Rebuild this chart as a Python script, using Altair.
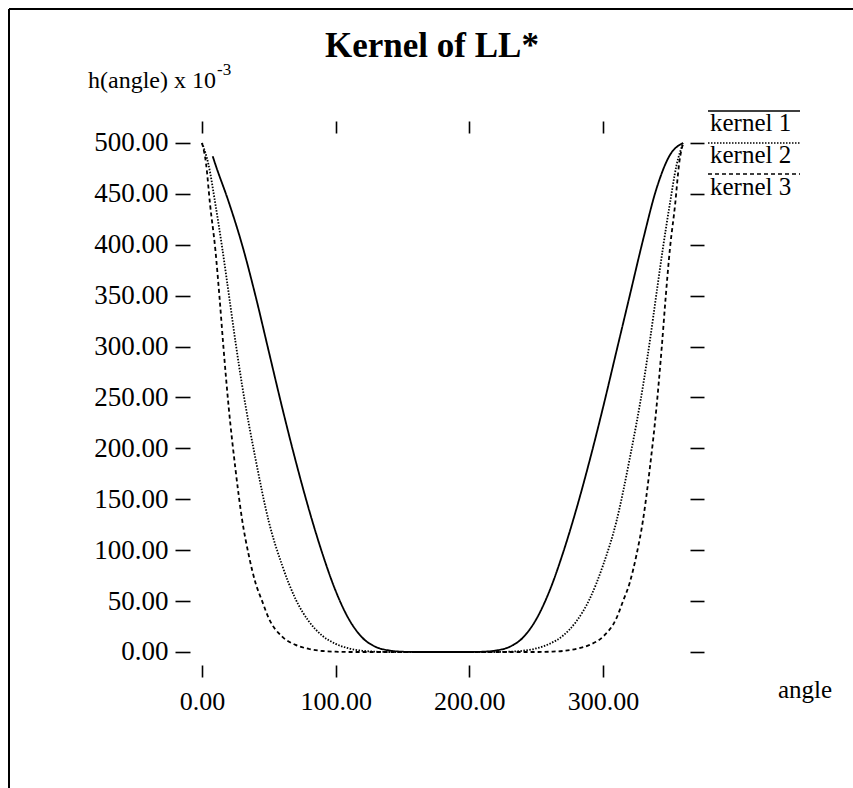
import altair as alt
import pandas as pd

# ---------------- data ----------------
k1_angle = [8, 10, 20, 30, 40, 50, 60, 70, 80, 90, 100, 110, 120, 130, 140, 150, 160, 170, 180,
            190, 200, 210, 220, 230, 240, 250, 260, 270, 280, 290, 300, 310, 320, 330, 340, 350, 360]
k1_value = [487, 479, 442, 400, 350, 295, 240, 188, 140, 97, 60, 32, 14, 5, 1.5, 0.3, 0, 0, 0,
            0, 0, 0.3, 1.5, 5, 14, 32, 60, 97, 140, 188, 240, 295, 350, 405, 455, 488, 500]

k2_angle = [0, 5, 10, 15, 20, 25, 30, 40, 50, 60, 70, 80, 90, 100, 110, 120, 130, 140, 150, 160, 170, 180,
            190, 200, 210, 220, 230, 240, 250, 260, 270, 280, 290, 300, 310, 320, 330, 335, 340, 345, 350, 355, 360]
k2_value = [500, 478, 440, 398, 352, 305, 262, 190, 128, 85, 52, 30, 16, 8, 3.5, 1.2, 0.3, 0, 0, 0, 0, 0,
            0, 0, 0, 0, 0.3, 1.2, 3.5, 8, 16, 30, 52, 85, 128, 190, 262, 305, 352, 398, 440, 478, 500]

k3_angle = [0, 3, 6, 10, 13, 16, 20, 25, 30, 35, 40, 45, 50, 60, 70, 80, 90, 100, 110, 120, 180,
            240, 250, 260, 270, 280, 290, 300, 310, 315, 320, 325, 330, 335, 340, 344, 347, 350, 354, 357, 360]
k3_value = [500, 480, 440, 395, 350, 300, 240, 180, 130, 95, 68, 50, 33, 15, 7, 3, 1, 0.3, 0, 0, 0,
            0, 0, 0.3, 1, 3, 7, 15, 33, 50, 68, 95, 130, 180, 240, 300, 350, 395, 440, 480, 500]

series_names = ["kernel 1", "kernel 2", "kernel 3"]
x_ticks = [0, 100, 200, 300]
y_ticks = [0, 50, 100, 150, 200, 250, 300, 350, 400, 450, 500]
title_text = "Kernel of LL*"
ylabel_text = "h(angle) x 10"
ylabel_exp = "-3"
xlabel_text = "angle"

rows = []
for name, angs, vals in zip(series_names, [k1_angle, k2_angle, k3_angle], [k1_value, k2_value, k3_value]):
    for a, v in zip(angs, vals):
        rows.append({"kernel": name, "angle": a, "value": v})
df = pd.DataFrame(rows)

FONT = "Liberation Serif"
dashes = [[1, 0], [1.5, 1.5], [4, 3]]

xscale = alt.Scale(domain=[-5.24, 365.1], nice=False, zero=False)
yscale = alt.Scale(domain=[-12.77, 509.8], nice=False, zero=False)

common_axis = dict(domain=False, grid=False, ticks=True, tickColor="black", tickWidth=1.6,
                   labelFont=FONT, labelColor="black", title=None)

lines = alt.Chart(df).mark_line(interpolate="monotone", color="black", strokeWidth=1.8, clip=False).encode(
    x=alt.X("angle:Q", scale=xscale,
            axis=alt.Axis(orient="bottom", values=x_ticks, format=".2f", tickSize=12, offset=0,
                          labelPadding=11, labelFontSize=26, **common_axis)),
    y=alt.Y("value:Q", scale=yscale,
            axis=alt.Axis(orient="left", values=y_ticks, format=".2f", tickSize=15, offset=5,
                          labelPadding=7, labelFontSize=27, **common_axis)),
    strokeDash=alt.StrokeDash("kernel:N", scale=alt.Scale(domain=series_names, range=dashes), legend=None),
    detail="kernel:N",
    order="angle:Q",
)

ghost = alt.Chart(df).mark_line(opacity=0, clip=False).encode(
    x=alt.X("angle:Q", scale=xscale,
            axis=alt.Axis(orient="top", values=x_ticks, labels=False, tickSize=12, offset=0,
                          **common_axis)),
    y=alt.Y("value:Q", scale=yscale,
            axis=alt.Axis(orient="right", values=y_ticks, labels=False, tickSize=14, offset=0,
                          **common_axis)),
    detail="kernel:N",
)

def text_layer(txt, x, y, size, weight="normal", align="left", baseline="alphabetic"):
    return alt.Chart(pd.DataFrame({"t": [txt]})).mark_text(
        font=FONT, fontSize=size, fontWeight=weight, align=align, baseline=baseline, color="black"
    ).encode(x=alt.value(x), y=alt.value(y), text="t:N")

def rule_layer(x, x2, y, y2=None, dash=None, width=1.6):
    kw = dict(color="black", strokeWidth=width)
    if dash is not None:
        kw["strokeDash"] = dash
    enc = dict(x=alt.value(x), y=alt.value(y))
    if x2 is not None:
        enc["x2"] = alt.value(x2)
    if y2 is not None:
        enc["y2"] = alt.value(y2)
    return alt.Chart(pd.DataFrame({"d": [0]})).mark_rule(**kw).encode(**enc)

decor = [
    text_layer(title_text, 237, -76, 35, weight="bold", align="center"),
    text_layer(ylabel_text, -107, -45, 24),
    text_layer(ylabel_exp, 22, -58, 17),
    text_layer(xlabel_text, 583, 565, 25),
    # legend
    rule_layer(513, 605, -22, dash=dashes[0]),
    text_layer(series_names[0], 515, -2, 25),
    rule_layer(513, 605, 10, dash=dashes[1]),
    text_layer(series_names[1], 515, 30, 25),
    rule_layer(513, 605, 41, dash=dashes[2]),
    text_layer(series_names[2], 515, 62, 25),
    # page frame (top and left edges)
    rule_layer(-186, 670, -124, width=2),
    rule_layer(-186, None, -124, y2=670, width=2),
]

chart = alt.layer(lines, ghost, *decor).resolve_axis(x="independent", y="independent").properties(
    width=495, height=532,
    autosize=alt.AutoSizeParams(type="none"),
    padding={"left": 195, "top": 133, "right": 163, "bottom": 123},
    background="white",
).configure_view(stroke=None)

chart.save("out.html", embed_options={"renderer": "svg", "actions": False})
